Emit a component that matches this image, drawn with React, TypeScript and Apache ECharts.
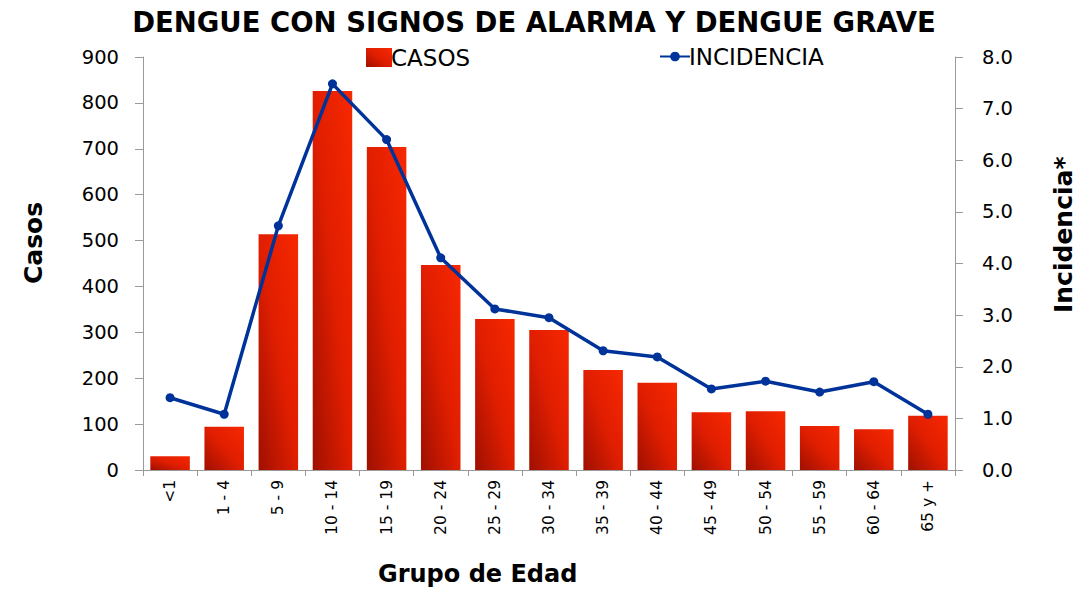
import React, { useEffect, useRef } from "react";
import * as echarts from "echarts";

const categories = ["<1", "1 - 4", "5 - 9", "10 - 14", "15 - 19", "20 - 24", "25 - 29", "30 - 34", "35 - 39", "40 - 44", "45 - 49", "50 - 54", "55 - 59", "60 - 64", "65 y +"];
const casos = [30, 94, 514, 826, 704, 447, 329, 305, 218, 190, 126, 128, 96, 89, 118];
const incidencia = [1.4, 1.08, 4.73, 7.48, 6.4, 4.11, 3.12, 2.95, 2.31, 2.19, 1.57, 1.72, 1.51, 1.71, 1.08];

const FONT = "DejaVu Sans";

export default function App() {
  const ref = useRef<HTMLDivElement>(null);
  useEffect(() => {
    if (!ref.current) return;
    const chart = echarts.init(ref.current, null, { renderer: "svg" });
    const barColor = new echarts.graphic.LinearGradient(0, 1, 1, 0, [
      { offset: 0, color: "#9e1000" },
      { offset: 0.5, color: "#e01e00" },
      { offset: 1, color: "#f72800" },
    ]);
    chart.setOption({
      animation: false,
      backgroundColor: "#ffffff",
      textStyle: { fontFamily: FONT },
      title: {
        text: "DENGUE CON SIGNOS DE ALARMA Y DENGUE GRAVE",
        left: 529,
        textAlign: "center",
        top: 3,
        textStyle: { fontFamily: FONT, fontWeight: "bold", fontSize: 27.5, color: "#000" },
      },
      legend: [
        {
          data: [{ name: "CASOS", icon: "rect" }],
          left: 361,
          top: 41,
          itemWidth: 26,
          itemHeight: 19,
          itemGap: 4,
          textStyle: { fontFamily: FONT, fontSize: 23, color: "#000", padding: [0, 0, 0, -6] },
        },
        {
          data: ["INCIDENCIA"],
          left: 654,
          top: 40,
          itemWidth: 30,
          itemHeight: 12,
          textStyle: { fontFamily: FONT, fontSize: 23, color: "#000", padding: [0, 0, 0, -6] },
        },
      ],
      grid: { left: 143, right: 137, top: 57, bottom: 124 },
      xAxis: {
        type: "category",
        data: categories,
        axisLine: { lineStyle: { color: "#9a9a9a" } },
        axisTick: { show: true, lineStyle: { color: "#9a9a9a" }, length: 6 },
        axisLabel: { rotate: 90, fontSize: 15.5, color: "#000", fontFamily: FONT, margin: 10 },
      },
      yAxis: [
        {
          type: "value",
          min: 0,
          max: 900,
          interval: 100,
          axisLine: { show: true, lineStyle: { color: "#9a9a9a" } },
          axisTick: { show: true, lineStyle: { color: "#9a9a9a" }, length: 8 },
          splitLine: { show: false },
          axisLabel: { fontSize: 19.5, color: "#000", fontFamily: FONT, margin: 24 },
        },
        {
          type: "value",
          min: 0,
          max: 8,
          interval: 1,
          position: "right",
          axisLine: { show: true, lineStyle: { color: "#9a9a9a" } },
          axisTick: { show: true, lineStyle: { color: "#9a9a9a" }, length: 8 },
          splitLine: { show: false },
          axisLabel: { fontSize: 19.5, color: "#000", fontFamily: FONT, margin: 27, formatter: (v: number) => v.toFixed(1) },
        },
      ],
      series: [
        {
          name: "CASOS",
          type: "bar",
          data: casos,
          barWidth: "73%",
          itemStyle: { color: barColor },
        },
        {
          name: "INCIDENCIA",
          type: "line",
          yAxisIndex: 1,
          data: incidencia,
          symbol: "circle",
          symbolSize: 9,
          lineStyle: { color: "#003399", width: 3.5 },
          itemStyle: { color: "#003399" },
        },
      ],
      graphic: [
        {
          type: "text",
          left: 378,
          top: 562,
          style: { text: "Grupo de Edad", fontFamily: FONT, fontSize: 24, fontWeight: "bold", fill: "#000" },
        },
        {
          type: "text",
          x: 21,
          y: 284,
          rotation: Math.PI / 2,
          style: { text: "Casos", fontFamily: FONT, fontSize: 25, fontWeight: "bold", fill: "#000" },
        },
        {
          type: "text",
          x: 1051,
          y: 313,
          rotation: Math.PI / 2,
          style: { text: "Incidencia*", fontFamily: FONT, fontSize: 25, fontWeight: "bold", fill: "#000" },
        },
      ],
    });
    return () => chart.dispose();
  }, []);
  return <div ref={ref} style={{ width: 1092, height: 594, position: "absolute", left: 0, top: 0 }} />;
}
